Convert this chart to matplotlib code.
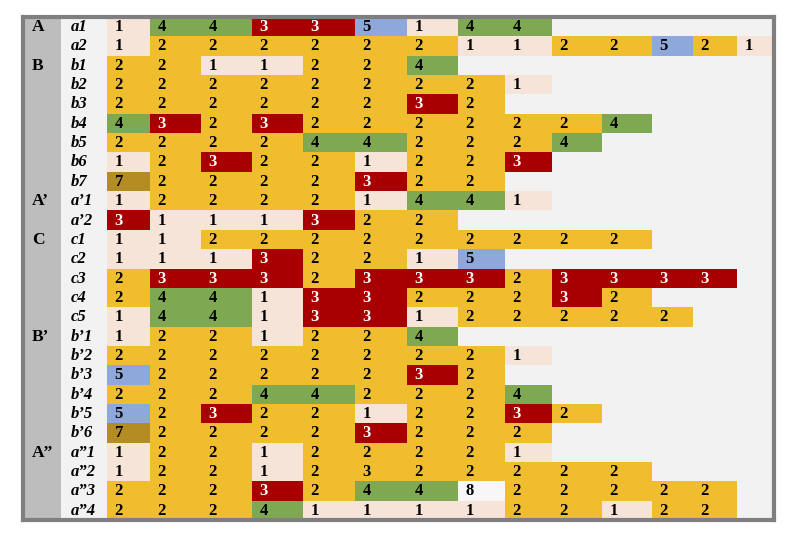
import matplotlib
matplotlib.use("Agg")
import matplotlib.pyplot as plt
import numpy as np
from matplotlib.colors import ListedColormap, BoundaryNorm

# ---------------- data ----------------
rows_A = ["a1", "a2"]
vals_A = [
    [1, 4, 4, 3, 3, 5, 1, 4, 4],
    [1, 2, 2, 2, 2, 2, 2, 1, 1, 2, 2, 5, 2, 1],
]
rows_B = ["b1", "b2", "b3", "b4", "b5", "b6", "b7"]
vals_B = [
    [2, 2, 1, 1, 2, 2, 4],
    [2, 2, 2, 2, 2, 2, 2, 2, 1],
    [2, 2, 2, 2, 2, 2, 3, 2],
    [4, 3, 2, 3, 2, 2, 2, 2, 2, 2, 4],
    [2, 2, 2, 2, 4, 4, 2, 2, 2, 4],
    [1, 2, 3, 2, 2, 1, 2, 2, 3],
    [7, 2, 2, 2, 2, 3, 2, 2],
]
rows_A1 = ["a’1", "a’2"]
vals_A1 = [
    [1, 2, 2, 2, 2, 1, 4, 4, 1],
    [3, 1, 1, 1, 3, 2, 2],
]
rows_C = ["c1", "c2", "c3", "c4", "c5"]
vals_C = [
    [1, 1, 2, 2, 2, 2, 2, 2, 2, 2, 2],
    [1, 1, 1, 3, 2, 2, 1, 5],
    [2, 3, 3, 3, 2, 3, 3, 3, 2, 3, 3, 3, 3],
    [2, 4, 4, 1, 3, 3, 2, 2, 2, 3, 2],
    [1, 4, 4, 1, 3, 3, 1, 2, 2, 2, 2, 2],
]
rows_B1 = ["b’1", "b’2", "b’3", "b’4", "b’5", "b’6"]
vals_B1 = [
    [1, 2, 2, 1, 2, 2, 4],
    [2, 2, 2, 2, 2, 2, 2, 2, 1],
    [5, 2, 2, 2, 2, 2, 3, 2],
    [2, 2, 2, 4, 4, 2, 2, 2, 4],
    [5, 2, 3, 2, 2, 1, 2, 2, 3, 2],
    [7, 2, 2, 2, 2, 3, 2, 2, 2],
]
rows_A2 = ["a”1", "a”2", "a”3", "a”4"]
vals_A2 = [
    [1, 2, 2, 1, 2, 2, 2, 2, 1],
    [1, 2, 2, 1, 2, 3, 2, 2, 2, 2, 2],
    [2, 2, 2, 3, 2, 4, 4, 8, 2, 2, 2, 2, 2],
    [2, 2, 2, 4, 1, 1, 1, 1, 2, 2, 1, 2, 2],
]
section_names = ["A", "B", "A’", "C", "B’", "A”"]

# cells whose fill differs from the colour of their value: (row label, column) -> fill category
fill_override = {("a”2", 5): 2}

# ---------------- styling ----------------
value_colors = {1: "#f7e4d9", 2: "#f0bd2e", 3: "#a80000", 4: "#7ea851",
                5: "#8ea8db", 7: "#b38d24", 8: "#f7f7f7"}
sec_col_w = 38
lab_col_w = 46
col_widths = [43, 51, 51, 51, 52, 52, 51, 47, 47, 50, 50, 41, 44, 37]
serif = ["Liberation Serif", "DejaVu Serif"]

groups = [(rows_A, vals_A), (rows_B, vals_B), (rows_A1, vals_A1),
          (rows_C, vals_C), (rows_B1, vals_B1), (rows_A2, vals_A2)]
row_labels, values, sec_start = [], [], {}
for name, (rl, vl) in zip(section_names, groups):
    sec_start[len(row_labels)] = name
    row_labels += rl
    values += vl

n_rows = len(row_labels)
n_cols = len(col_widths)
cats = sorted(value_colors)
cat_index = {c: i for i, c in enumerate(cats)}

grid = np.full((n_rows, n_cols), np.nan)
for i, (lab, row) in enumerate(zip(row_labels, values)):
    for j, v in enumerate(row):
        fill = fill_override.get((lab, j), v)
        grid[i, j] = cat_index[fill]

x0 = sec_col_w + lab_col_w
x_edges = x0 + np.concatenate([[0], np.cumsum(col_widths)])
y_edges = np.arange(n_rows + 1)

fig = plt.figure(figsize=(8.0, 5.45), dpi=100)
W, H = 800, 545
ax = fig.add_axes([23 / W, 1 - 520 / H, 751 / W, 503 / H])
ax.set_facecolor("#f2f2f2")
ax.set_xlim(0, x_edges[-1])
ax.set_ylim(n_rows, 0)

ax.axvspan(0, sec_col_w, color="#bdbdbd", lw=0, zorder=0)

cmap = ListedColormap([value_colors[c] for c in cats])
norm = BoundaryNorm(np.arange(len(cats) + 1) - 0.5, len(cats))
ax.pcolormesh(x_edges, y_edges, np.ma.masked_invalid(grid), cmap=cmap, norm=norm,
              shading="flat", zorder=1)

red_idx = cat_index[3]
for i, (lab, row) in enumerate(zip(row_labels, values)):
    for j, v in enumerate(row):
        tc = "white" if grid[i, j] == red_idx else "black"
        ax.text(x_edges[j] + 7.5, i + 0.52, str(v), ha="left", va="center",
                fontsize=12, fontweight="bold", family=serif, color=tc, zorder=3)
    ax.text(sec_col_w + 9.5, i + 0.52, lab, ha="left", va="center", fontsize=12,
            fontweight="bold", fontstyle="italic", family=serif, color="black", zorder=3)
for i, name in sec_start.items():
    ax.text(9, i + 0.52, name, ha="left", va="center", fontsize=12.5,
            fontweight="bold", family=serif, color="black", zorder=3)

ax.set_xticks([])
ax.set_yticks([])
for s in ax.spines.values():
    s.set_color("#7f7f7f")
    s.set_linewidth(3)
    s.set_zorder(5)

fig.savefig("out.png", dpi=100, facecolor="white")
